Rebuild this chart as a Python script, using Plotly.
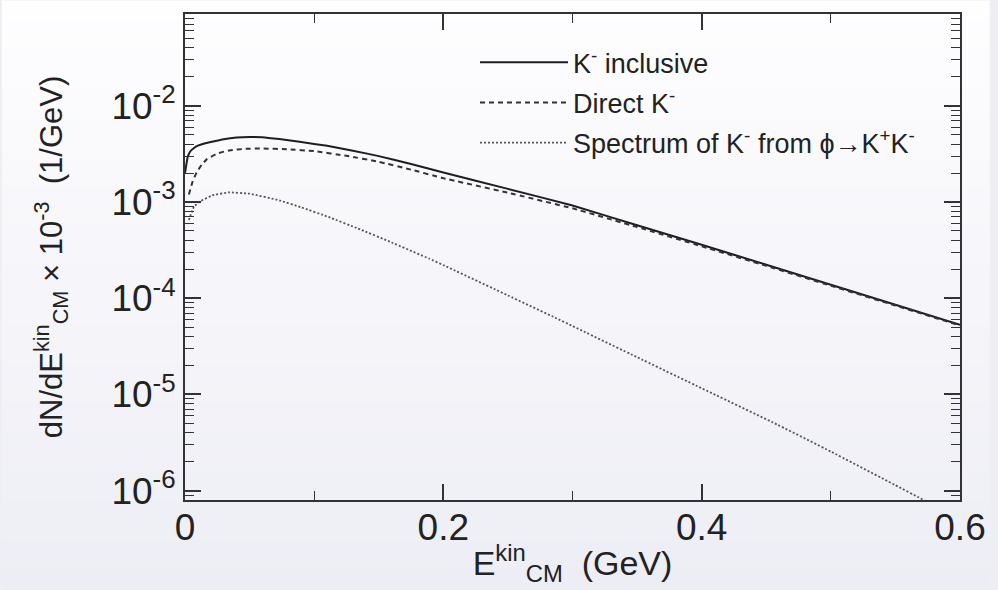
import plotly.graph_objects as go
import numpy as np

# ---- data ----
incl_x = [0.0, 0.002, 0.004, 0.007, 0.01, 0.015, 0.02, 0.03, 0.04, 0.05, 0.06, 0.073, 0.09, 0.11, 0.13,
          0.15, 0.175, 0.2, 0.25, 0.3, 0.35, 0.4, 0.45, 0.5, 0.55, 0.6]
incl_y = [2.0e-3, 2.9e-3, 3.35e-3, 3.65e-3, 3.85e-3, 4.05e-3, 4.2e-3, 4.5e-3, 4.68e-3, 4.74e-3, 4.7e-3,
          4.52e-3, 4.2e-3, 3.84e-3, 3.42e-3, 3.0e-3, 2.48e-3, 2.03e-3, 1.37e-3,
          9.2e-4, 5.73e-4, 3.6e-4, 2.23e-4, 1.38e-4, 8.55e-5, 5.3e-5]

direct_x = [0.003, 0.006, 0.009, 0.013, 0.017, 0.025, 0.035, 0.047, 0.06, 0.08, 0.1, 0.125, 0.15, 0.175,
            0.2, 0.25, 0.3, 0.35, 0.4, 0.45, 0.5, 0.55, 0.6]
direct_y = [1.2e-3, 1.65e-3, 2.03e-3, 2.45e-3, 2.79e-3, 3.2e-3, 3.46e-3, 3.57e-3, 3.6e-3, 3.53e-3,
            3.38e-3, 3.02e-3, 2.62e-3, 2.17e-3, 1.77e-3, 1.25e-3,
            8.6e-4, 5.5e-4, 3.47e-4, 2.17e-4, 1.35e-4, 8.4e-5, 5.2e-5]

phi_x = [0.003, 0.007, 0.012, 0.021, 0.034, 0.05, 0.073, 0.09, 0.111, 0.134, 0.16, 0.189, 0.2, 0.25,
         0.287, 0.3, 0.35, 0.4, 0.455, 0.5, 0.55, 0.5696, 0.6]
phi_y = [6.5e-4, 9.0e-4, 1.02e-3, 1.17e-3, 1.26e-3, 1.22e-3, 1.04e-3, 8.8e-4, 7.0e-4, 5.3e-4, 3.8e-4,
         2.58e-4, 2.21e-4, 1.07e-4, 6.24e-5, 5.14e-5, 2.44e-5, 1.16e-5, 5.13e-6, 2.55e-6, 1.14e-6,
         8.3e-7, 5.1e-7]

names = ["K<sup>-</sup> inclusive", "Direct K<sup>-</sup>",
         "Spectrum of K<sup>-</sup> from \u03d5\u2192K<sup>+</sup>K<sup>-</sup>"]

y_tickvals = [1e-6, 1e-5, 1e-4, 1e-3, 1e-2]
y_ticktext = ["10<sup>-6</sup>", "10<sup>-5</sup>", "10<sup>-4</sup>", "10<sup>-3</sup>", "10<sup>-2</sup>"]
x_tickvals = [0, 0.2, 0.4, 0.6]
x_ticktext = ["0", "0.2", "0.4", "0.6"]

FONT = "Liberation Sans, Arial, sans-serif"
INK = "#222222"

fig = go.Figure()
fig.add_trace(go.Scatter(x=incl_x, y=incl_y, mode="lines", name=names[0], legendgroup="a",
                         line=dict(color="#1e1e1e", width=2, shape="spline", smoothing=0.3)))
fig.add_trace(go.Scatter(x=direct_x, y=direct_y, mode="lines", name=names[1], legendgroup="b",
                         line=dict(color="#333333", width=2, dash="5px,4px", shape="spline", smoothing=0.3)))
fig.add_trace(go.Scatter(x=phi_x, y=phi_y, mode="lines", name=names[2], legendgroup="c",
                         line=dict(color="#555555", width=1.8, dash="2px,2px", shape="spline", smoothing=0.3)))

# background gradient (page), made of thin horizontal stripes
W, H = 998, 590
L, R, T, B = 185, 30, 13, 90
pw, ph = W - L - R, H - T - B
shapes = []
n = 60
top = np.array([254, 254, 255])
bot = np.array([237, 237, 245])
for i in range(n):
    y0p = i * H / n
    y1p = (i + 1) * H / n
    f = (y0p + y1p) / 2 / H
    c = top + (bot - top) * f
    shapes.append(dict(type="rect", xref="paper", yref="paper", layer="below",
                       x0=-L / pw, x1=(W - L) / pw,
                       y0=1 - (y1p - T) / ph - 0.001, y1=1 - (y0p - T) / ph + 0.001,
                       line=dict(width=0), fillcolor="rgb(%d,%d,%d)" % tuple(c.round().astype(int))))

axis_common = dict(showline=True, linecolor="#333333", linewidth=2, mirror="allticks",
                   ticks="inside", ticklen=16, tickwidth=1.6, tickcolor="#333333",
                   showgrid=False, zeroline=False,
                   tickfont=dict(family=FONT, size=37, color=INK))

fig.update_layout(
    width=W, height=H,
    margin=dict(l=L, r=R, t=T, b=B),
    paper_bgcolor="rgb(238,238,245)", plot_bgcolor="rgba(0,0,0,0)",
    shapes=shapes,
    font=dict(family=FONT, color=INK),
    showlegend=True,
    legend=dict(x=(478 - L) / pw, y=0.95, xanchor="left", yanchor="top", bgcolor="rgba(0,0,0,0)",
                font=dict(family=FONT, size=27, color=INK), tracegroupgap=2,
                traceorder="grouped", itemwidth=88),
    xaxis=dict(axis_common, range=[0, 0.6], tickvals=x_tickvals, ticktext=x_ticktext,
               ticklabelstandoff=-6,
               minor=dict(dtick=0.1, tick0=0, ticks="inside", ticklen=9, tickwidth=1.4, tickcolor="#333333"),
               title=dict(text="E<sup>kin</sup><sub>CM</sub>\u00a0\u00a0(GeV)",
                          font=dict(family=FONT, size=34, color=INK), standoff=4)),
    yaxis=dict(axis_common, type="log", range=[np.log10(8e-7), np.log10(0.09)],
               tickvals=y_tickvals, ticktext=y_ticktext,
               minor=dict(dtick="D1", ticks="inside", ticklen=9, tickwidth=1.4, tickcolor="#333333"),
               title=dict(text="dN/dE<sup>kin</sup><sub>CM</sub> \u00d7 10<sup>-3</sup>\u00a0\u00a0(1/GeV)",
                          font=dict(family=FONT, size=31, color=INK), standoff=40)),
)

fig.write_html("out.html")
